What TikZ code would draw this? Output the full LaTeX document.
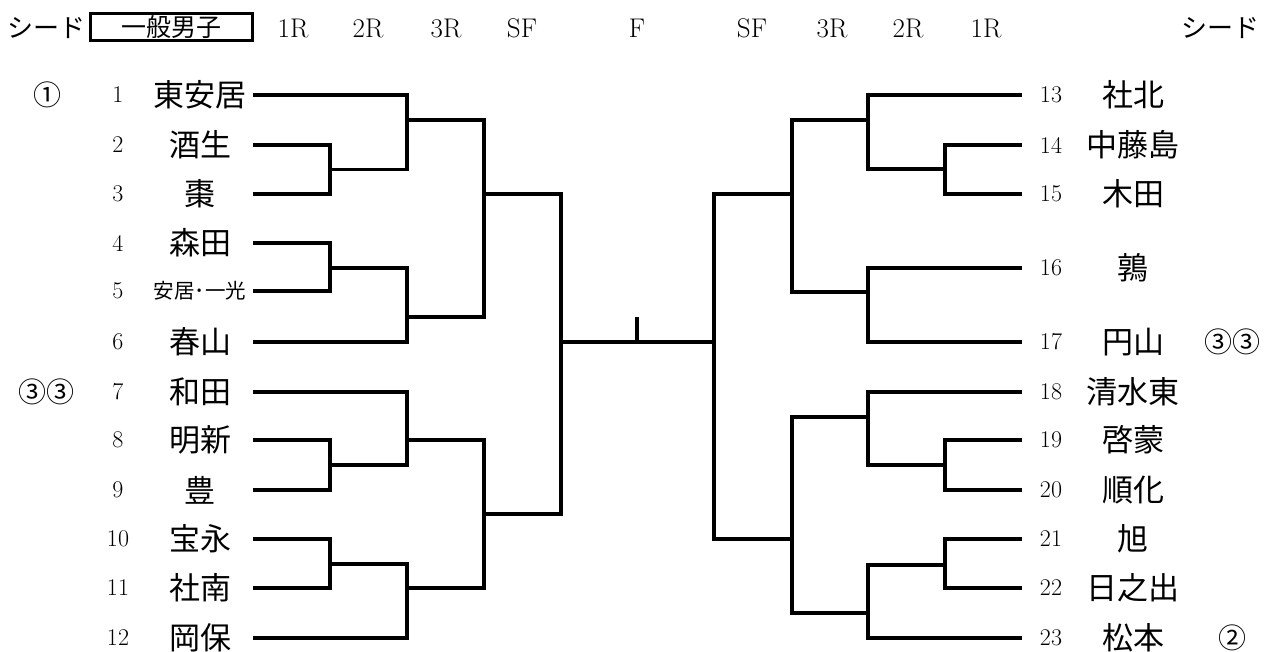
\documentclass[tikz,border=0pt]{standalone}
\usepackage{fontspec}
\newfontfamily\jpfont{Noto Sans CJK JP}

\begin{document}
\begin{tikzpicture}[x=1pt, y=-1pt,
    num/.style={font=\fontsize{24}{24}\selectfont, inner sep=0pt},
    team/.style={font=\jpfont\fontsize{31}{31}\selectfont, inner sep=0pt},
    smallteam/.style={font=\jpfont\fontsize{20.5}{20.5}\selectfont, inner sep=0pt},
    seed/.style={font=\jpfont\fontsize{26}{26}\selectfont, inner sep=0pt},
    circ/.style={font=\jpfont\fontsize{28}{28}\selectfont, inner sep=0pt},
    rnd/.style={font=\fontsize{27}{27}\selectfont, inner sep=0pt},
    brk/.style={line width=3.2pt}
]
\useasboundingbox (0,0) rectangle (1264,651);

% header
\node[seed] (seedL) at (47,28) {シード};
\node[draw, line width=3pt, minimum width=162pt, minimum height=27pt, inner sep=0pt,
      font=\jpfont\fontsize{25}{25}\selectfont] (title) at (171.5,27) {一般男子};
\node[rnd] (l1R) at (293,28) {1R};
\node[rnd] (l2R) at (368,28) {2R};
\node[rnd] (l3R) at (446,28) {3R};
\node[rnd] (lSF) at (522,28) {SF};
\node[rnd] (fin) at (637,28) {F};
\node[rnd] (rSF) at (752,28) {SF};
\node[rnd] (r3R) at (832,28) {3R};
\node[rnd] (r2R) at (908,28) {2R};
\node[rnd] (r1R) at (986,28) {1R};
\node[seed] (seedR) at (1220,28) {シード};

% seeds
\node[circ] (s1) at (48,95) {①};
\node[circ] (s7) at (47,392) {③③};
\node[circ] (s17) at (1232,342) {③③};
\node[circ] (s23) at (1232,638) {②};

% left teams
\node[num] (n1) at (118,95) {1};    \node[team] (t1) at (200,95) {東安居};
\node[num] (n2) at (118,145) {2};   \node[team] (t2) at (200,145) {酒生};
\node[num] (n3) at (118,194) {3};   \node[team] (t3) at (200,194) {棗};
\node[num] (n4) at (118,243) {4};   \node[team] (t4) at (200,243) {森田};
\node[num] (n5) at (118,291) {5};   \node[smallteam] (t5) at (200,291) {安居･一光};
\node[num] (n6) at (118,342) {6};   \node[team] (t6) at (200,342) {春山};
\node[num] (n7) at (118,392) {7};   \node[team] (t7) at (200,392) {和田};
\node[num] (n8) at (118,440) {8};   \node[team] (t8) at (200,440) {明新};
\node[num] (n9) at (118,490) {9};   \node[team] (t9) at (200,490) {豊};
\node[num] (n10) at (118,539) {10}; \node[team] (t10) at (200,539) {宝永};
\node[num] (n11) at (118,588) {11}; \node[team] (t11) at (200,588) {社南};
\node[num] (n12) at (118,638) {12}; \node[team] (t12) at (200,638) {岡保};

% right teams
\node[num] (n13) at (1051,95) {13};  \node[team] (t13) at (1133,95) {社北};
\node[num] (n14) at (1051,145) {14}; \node[team] (t14) at (1133,145) {中藤島};
\node[num] (n15) at (1051,194) {15}; \node[team] (t15) at (1133,194) {木田};
\node[num] (n16) at (1051,268) {16}; \node[team] (t16) at (1133,268) {鶉};
\node[num] (n17) at (1051,342) {17}; \node[team] (t17) at (1133,342) {円山};
\node[num] (n18) at (1051,392) {18}; \node[team] (t18) at (1133,392) {清水東};
\node[num] (n19) at (1051,440) {19}; \node[team] (t19) at (1133,440) {啓蒙};
\node[num] (n20) at (1051,490) {20}; \node[team] (t20) at (1133,490) {順化};
\node[num] (n21) at (1051,539) {21}; \node[team] (t21) at (1133,539) {旭};
\node[num] (n22) at (1051,588) {22}; \node[team] (t22) at (1133,588) {日之出};
\node[num] (n23) at (1051,638) {23}; \node[team] (t23) at (1133,638) {松本};

% line ends
\coordinate (e1) at (253,95);   \coordinate (e2) at (253,145);  \coordinate (e3) at (253,194);
\coordinate (e4) at (253,243);  \coordinate (e5) at (253,291);  \coordinate (e6) at (253,342);
\coordinate (e7) at (253,392);  \coordinate (e8) at (253,440);  \coordinate (e9) at (253,490);
\coordinate (e10) at (253,539); \coordinate (e11) at (253,588); \coordinate (e12) at (253,638);
\coordinate (e13) at (1022,95);  \coordinate (e14) at (1022,145); \coordinate (e15) at (1022,194);
\coordinate (e16) at (1022,268); \coordinate (e17) at (1022,342); \coordinate (e18) at (1022,392);
\coordinate (e19) at (1022,440); \coordinate (e20) at (1022,490); \coordinate (e21) at (1022,539);
\coordinate (e22) at (1022,588); \coordinate (e23) at (1022,638);

% junctions
\coordinate (ma) at (330,169.5); \coordinate (mb) at (407,120);
\coordinate (mc) at (330,268);   \coordinate (md) at (407,317);
\coordinate (me) at (484,194);
\coordinate (mf) at (330,465);   \coordinate (mg) at (407,440);
\coordinate (mh) at (330,564);   \coordinate (mi) at (407,588);
\coordinate (mj) at (484,514);
\coordinate (lsf) at (561,342);
\coordinate (mk) at (945,169);   \coordinate (ml) at (868,120);
\coordinate (mm) at (868,292);   \coordinate (mn) at (792,194);
\coordinate (mo) at (945,465);   \coordinate (mp) at (868,417);
\coordinate (mq) at (945,565);   \coordinate (mr) at (868,613);
\coordinate (ms) at (792,539);
\coordinate (rsf) at (714,342);
\coordinate (ctr) at (637,342);  \coordinate (top) at (637,317);

% bracket
\draw[brk] (e2) -| (ma) |- (e3);
\draw[brk] (e1) -| (mb) |- (ma);
\draw[brk] (e4) -| (mc) |- (e5);
\draw[brk] (mc) -| (md) |- (e6);
\draw[brk] (mb) -| (me) |- (md);
\draw[brk] (e8) -| (mf) |- (e9);
\draw[brk] (e7) -| (mg) |- (mf);
\draw[brk] (e10) -| (mh) |- (e11);
\draw[brk] (mh) -| (mi) |- (e12);
\draw[brk] (mg) -| (mj) |- (mi);
\draw[brk] (me) -| (lsf) |- (mj);
\draw[brk] (e14) -| (mk) |- (e15);
\draw[brk] (e13) -| (ml) |- (mk);
\draw[brk] (e16) -| (mm) |- (e17);
\draw[brk] (ml) -| (mn) |- (mm);
\draw[brk] (e19) -| (mo) |- (e20);
\draw[brk] (e18) -| (mp) |- (mo);
\draw[brk] (e21) -| (mq) |- (e22);
\draw[brk] (mq) -| (mr) |- (e23);
\draw[brk] (mp) -| (ms) |- (mr);
\draw[brk] (mn) -| (rsf) |- (ms);
\draw[brk] (lsf) -- (rsf);
\draw[brk] (ctr) -- (top);
\end{tikzpicture}
\end{document}
